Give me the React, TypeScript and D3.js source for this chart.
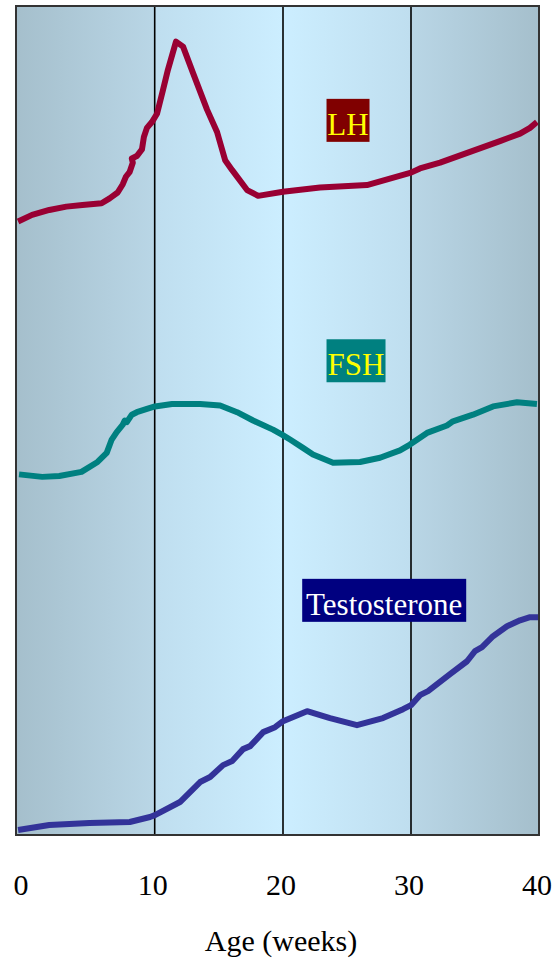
import React from "react";
import * as d3 from "d3";

// Age in weeks, relative level (0–100)
const lhWeeks = [0.15, 1.16, 2.4, 3.63, 4.79, 6.17, 6.75, 7.33, 7.7, 7.92, 8.2, 8.42, 8.35, 8.71, 9.08, 9.22, 9.44, 9.8, 10.18, 10.65, 11.03, 11.66, 12.21, 12.99, 14.08, 14.86, 15.1, 15.49, 16.04, 17.2, 18.06, 20, 22.89, 26.56, 30, 30.7, 32.27, 34.61, 36.95, 38.52, 39.3, 39.84];
const lhValues = [74.0, 74.8, 75.4, 75.8, 76.0, 76.2, 76.8, 77.5, 78.5, 79.4, 80.0, 81.1, 81.6, 81.9, 82.7, 84.2, 85.3, 86.0, 87.0, 89.9, 92.3, 95.7, 95.1, 91.9, 87.5, 84.8, 83.5, 81.4, 80.2, 77.8, 77.1, 77.6, 78.1, 78.4, 79.9, 80.4, 81.1, 82.4, 83.7, 84.6, 85.3, 86.0];

const fshWeeks = [0.22, 1.89, 3.12, 4.72, 5.88, 6.54, 6.9, 7.26, 7.7, 7.84, 7.99, 8.35, 8.71, 9.44, 10.02, 11.35, 13.54, 15.1, 16.42, 17.67, 19.22, 19.92, 20.55, 21.56, 22.34, 23.91, 26.02, 27.58, 29.14, 29.92, 31.25, 32.81, 33.28, 34.84, 36.41, 38.28, 39.84];
const fshValues = [43.5, 43.2, 43.3, 43.8, 45.0, 46.1, 47.7, 48.6, 49.5, 50.0, 49.8, 50.7, 51.0, 51.4, 51.7, 52.0, 52.0, 51.8, 51.0, 50.0, 48.9, 48.3, 47.7, 46.7, 45.9, 44.9, 45.0, 45.5, 46.4, 47.1, 48.5, 49.4, 49.9, 50.7, 51.7, 52.2, 52.0];

const tWeeks = [0.15, 2.4, 5.3, 8.2, 9.66, 10.02, 11.97, 13.54, 14.32, 15.33, 16.04, 16.89, 17.44, 18.46, 19.38, 20, 21.88, 23.67, 25.78, 27.81, 29.38, 30, 30.7, 31.33, 33.05, 34.38, 35.0, 35.55, 36.41, 37.5, 38.52, 39.3, 40.08];
const tValues = [0.6, 1.2, 1.45, 1.57, 2.17, 2.4, 3.98, 6.39, 6.99, 8.43, 8.92, 10.36, 10.72, 12.41, 13.01, 13.73, 14.94, 14.1, 13.25, 14.1, 15.18, 15.66, 16.87, 17.35, 19.4, 20.96, 22.17, 22.65, 23.98, 25.18, 25.9, 26.27, 26.27];

const xTicks = [0, 10, 20, 30, 40];
const gridWeeks = [10, 20, 30];
const xLabel = "Age (weeks)";

const seriesNames = ["LH", "FSH", "Testosterone"];
const lineColors = ["#990033", "#008080", "#333399"];
const boxColors = ["#800000", "#008080", "#000080"];
const textColors = ["#ffff00", "#ffff00", "#ffffff"];
// label anchor (week, level) for each series box
const labelWeeks = [23.4, 23.4, 21.5];
const labelLevels = [88.8, 59.8, 30.9];

export default function App() {
  const W = 557, H = 966;
  const left = 16, right = 539, top = 6, bottom = 835;
  const x = d3.scaleLinear().domain([0, 10, 20, 30, 40]).range([left, 154.7, 283, 411, right]);
  const y = d3.scaleLinear().domain([0, 100]).range([bottom, top]);

  const series = [
    { w: lhWeeks, v: lhValues },
    { w: fshWeeks, v: fshValues },
    { w: tWeeks, v: tValues },
  ];
  const line = d3.line<[number, number]>().x(d => x(d[0])).y(d => y(d[1])).curve(d3.curveLinear);

  const fontStyle = { fontFamily: "Liberation Serif, Times New Roman, serif" };
  const boxWidths = [43, 59, 164];

  return (
    <svg width={W} height={H} style={{ position: "absolute", left: 0, top: 0 }}>
      <defs>
        <linearGradient id="bg" x1="0" x2="1" y1="0" y2="0">
          <stop offset="0%" stopColor="#a5bfcc" />
          <stop offset="26.4%" stopColor="#b9d6e6" />
          <stop offset="26.6%" stopColor="#bfdeef" />
          <stop offset="51%" stopColor="#cceeff" />
          <stop offset="75.4%" stopColor="#bfdeef" />
          <stop offset="75.6%" stopColor="#b9d6e6" />
          <stop offset="100%" stopColor="#a5bfcc" />
        </linearGradient>
        <clipPath id="plot">
          <rect x={left} y={top} width={right - left} height={bottom - top} />
        </clipPath>
      </defs>
      <rect x={left} y={top} width={right - left} height={bottom - top} fill="url(#bg)" />
      {gridWeeks.map(g => (
        <line key={g} x1={x(g)} x2={x(g)} y1={top} y2={bottom} stroke="#000" strokeWidth={1.6} />
      ))}
      <g clipPath="url(#plot)">
        {series.map((s, i) => (
          <path
            key={i}
            d={line(s.w.map((w, j) => [w, s.v[j]] as [number, number])) || ""}
            fill="none"
            stroke={lineColors[i]}
            strokeWidth={6}
            strokeLinejoin="round"
            strokeLinecap="butt"
          />
        ))}
      </g>
      <rect x={left} y={top} width={right - left} height={bottom - top} fill="none" stroke="#333" strokeWidth={2} />
      {seriesNames.map((n, i) => {
        const bx = x(labelWeeks[i]);
        const by = y(labelLevels[i]);
        return (
          <g key={n}>
            <rect x={bx} y={by} width={boxWidths[i]} height={43} fill={boxColors[i]} />
            <text x={bx + boxWidths[i] / 2} y={by + 36} textAnchor="middle" fontSize={31} fill={textColors[i]} style={fontStyle}>
              {n}
            </text>
          </g>
        );
      })}
      {xTicks.map(t => (
        <text key={t} x={Math.max(x(t) - 2, 21)} y={895} textAnchor="middle" fontSize={30} fill="#000" style={fontStyle}>
          {t}
        </text>
      ))}
      <text x={281} y={951} textAnchor="middle" fontSize={30} fill="#000" style={fontStyle}>
        {xLabel}
      </text>
    </svg>
  );
}
